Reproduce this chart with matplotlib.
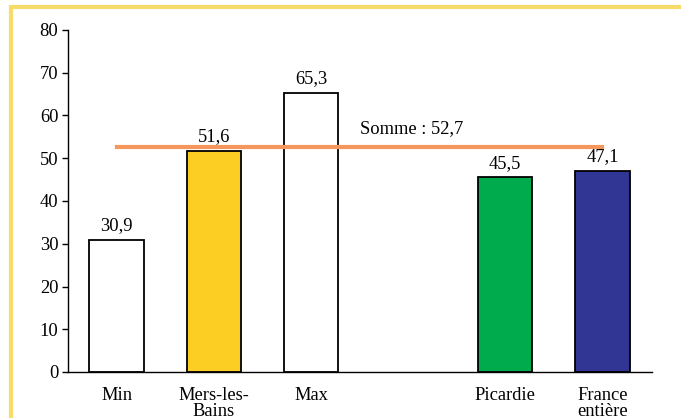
import numpy as np
import matplotlib.pyplot as plt
from matplotlib.patches import Rectangle

plt.rcParams['font.family'] = ['Liberation Serif', 'DejaVu Serif']

# valeurs du graphique
labels = ['Min', 'Mers-les-\nBains', 'Max', '', 'Picardie', 'France\nentière']
positions = [0, 1, 2, 4, 5]
values = [30.9, 51.6, 65.3, 45.5, 47.1]
bar_labels = ['30,9', '51,6', '65,3', '45,5', '47,1']
colors = ['white', '#FCCD22', 'white', '#00AB4E', '#313694']
somme = 52.7

fs = 13.3

fig = plt.figure(figsize=(6.81, 4.18), dpi=100)
ax = fig.add_axes([68/681, 1 - 372/418, 584/681, 342/418])

ax.bar(positions, values, width=0.56, color=colors, edgecolor='black', linewidth=1.3, zorder=2)
for p, v, t in zip(positions, values, bar_labels):
    ax.text(p, v + 2.3, t, ha='center', va='baseline', fontsize=fs)

# ligne de la Somme
ax.plot([0, 5], [somme, somme], color='#F5975C', linewidth=3, zorder=3)
ax.text(2.5, 55.9, 'Somme : ' + str(somme).replace('.', ','), ha='left', va='baseline', fontsize=fs)

ax.set_xlim(-0.5, 5.51)
ax.set_ylim(0, 80)
ax.set_yticks(np.arange(0, 81, 10))
ax.set_xticks(range(6))
ax.set_xticklabels(labels, fontsize=fs, linespacing=0.9)
ax.tick_params(axis='x', length=0, pad=11)
ax.tick_params(axis='y', length=4, width=1, labelsize=fs, pad=3)
for s in ['top', 'right']:
    ax.spines[s].set_visible(False)
for s in ['left', 'bottom']:
    ax.spines[s].set_linewidth(1)

# cadre jaune
fig.patches.append(Rectangle((11/681, -0.1), 1.0, 1 - 7/418 + 0.1, transform=fig.transFigure,
                             fill=False, edgecolor='#F8DC6A', linewidth=3, zorder=0))

fig.savefig('out.png', dpi=100)
